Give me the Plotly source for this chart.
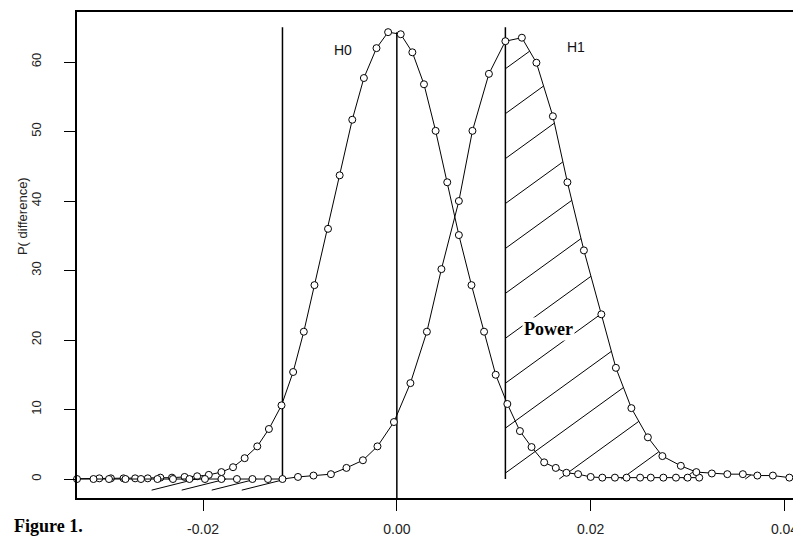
import numpy as np
import plotly.graph_objects as go

# ---- data ----
h0_x = [-0.0358, -0.0307, -0.0295, -0.0282, -0.0270, -0.0257, -0.0244, -0.0232, -0.0219, -0.0206,
        -0.0194, -0.0181, -0.0169, -0.0157, -0.0144, -0.0132, -0.0119, -0.0107, -0.0096, -0.0085,
        -0.0071, -0.0059, -0.0046, -0.0034, -0.0021, -0.0009, 0.0004, 0.0016, 0.0028, 0.0040,
        0.0052, 0.0064, 0.0077, 0.0090, 0.0102, 0.0114, 0.0127, 0.0139, 0.0152, 0.0164,
        0.0175, 0.0187, 0.0200, 0.0212, 0.0225, 0.0237, 0.0251, 0.0262, 0.0275, 0.0288,
        0.0300, 0.0312]
h0_y = [0.0, 0.1, 0.1, 0.1, 0.1, 0.1, 0.2, 0.2, 0.3, 0.4,
        0.6, 1.0, 1.7, 3.0, 4.7, 7.2, 10.6, 15.4, 21.2, 27.9,
        36.0, 43.7, 51.7, 57.7, 62.0, 64.3, 64.0, 61.4, 56.8, 50.1,
        42.7, 35.1, 27.9, 21.2, 15.0, 10.8, 6.9, 4.6, 2.4, 1.6,
        0.9, 0.7, 0.3, 0.2, 0.2, 0.2, 0.2, 0.2, 0.2, 0.2,
        0.2, 0.2]

h1_x = [-0.0330, -0.0313, -0.0297, -0.0280, -0.0264, -0.0247, -0.0231, -0.0214, -0.0198, -0.0181,
        -0.0165, -0.0149, -0.0133, -0.0118, -0.0102, -0.0086, -0.0068, -0.0052, -0.0035, -0.0020,
        -0.0003, 0.0014, 0.0031, 0.0046, 0.0064, 0.0078, 0.0095, 0.0112, 0.0129, 0.0144,
        0.0161, 0.0176, 0.0193, 0.0211, 0.0226, 0.0242, 0.0259, 0.0274, 0.0293, 0.0309,
        0.0325, 0.0341, 0.0357, 0.0372, 0.0388, 0.0405]
h1_y = [0.0, 0.0, 0.0, 0.0, 0.0, 0.0, 0.0, 0.0, 0.0, 0.0,
        0.0, 0.0, 0.0, 0.0, 0.3, 0.5, 0.7, 1.6, 2.7, 4.7,
        8.2, 13.8, 21.2, 30.2, 40.0, 50.1, 58.3, 63.0, 63.5, 59.9,
        52.2, 42.7, 32.9, 23.7, 16.0, 10.2, 6.0, 3.3, 1.9, 1.0,
        0.8, 0.7, 0.7, 0.5, 0.5, 0.2]

crit_lo = -0.0118
crit_hi = 0.0112
crit_top = 65.0
h0_mean = 0.0

x_ticks = [-0.02, 0.0, 0.02, 0.04]
x_tick_labels = ["-0.02", "0.00", "0.02", "0.04"]
y_ticks = [0, 10, 20, 30, 40, 50, 60]
y_tick_labels = ["0", "10", "20", "30", "40", "50", "60"]

X_RANGE = [-0.0330, 0.0417]
Y_RANGE = [-2.73, 67.2]

# ---- hatching of the power region (style: slope / spacing) ----
def hatch(x0, x1, floor, slope, first_cross, step, n_before, n_after):
    xs = np.linspace(x0, x1, 4000)
    cy = np.interp(xs, h1_x, h1_y)
    ox, oy = [], []
    for j in range(-n_before, n_after + 1):
        xc = first_cross + step * j
        ly = floor + slope * (xs - xc)
        m = (ly >= floor) & (ly <= cy)
        idx = np.where(m)[0]
        if len(idx) < 2:
            continue
        br = np.where(np.diff(idx) > 1)[0]
        run = idx[: br[0] + 1] if len(br) else idx
        if len(run) < 2:
            continue
        ox += [xs[run[0]], xs[run[-1]], None]
        oy += [ly[run[0]], ly[run[-1]], None]
    return ox, oy

rx, ry = hatch(crit_hi, h1_x[-1], 0.0, 1010.0, 0.01035, 0.0064, 12, 6)
lx, ly_ = hatch(-0.0256, crit_lo, -1.6, 349.0, -0.0253, 0.0031, 0, 3)

fig = go.Figure()
fig.add_trace(go.Scatter(x=rx + lx, y=ry + ly_, mode="lines",
                         line=dict(color="black", width=1), hoverinfo="skip", showlegend=False))

# vertical lines
for xv, yb, yt in [(crit_lo, 0.0, crit_top), (h0_mean, Y_RANGE[0], max(h0_y)), (crit_hi, 0.0, crit_top)]:
    fig.add_trace(go.Scatter(x=[xv, xv], y=[yb, yt], mode="lines",
                             line=dict(color="black", width=1.5), showlegend=False, hoverinfo="skip"))

mk = dict(symbol="circle", size=7, color="white", line=dict(color="black", width=1))
fig.add_trace(go.Scatter(x=h0_x, y=h0_y, mode="lines+markers", marker=mk,
                         line=dict(color="black", width=1), cliponaxis=False, showlegend=False))
fig.add_trace(go.Scatter(x=h1_x, y=h1_y, mode="lines+markers", marker=mk,
                         line=dict(color="black", width=1), cliponaxis=False, showlegend=False))

fig.add_annotation(x=-0.0056, y=61.7, text="H0", showarrow=False,
                   font=dict(family="Liberation Sans", size=14, color="#111"))
fig.add_annotation(x=0.0185, y=62.2, text="H1", showarrow=False,
                   font=dict(family="Liberation Sans", size=14, color="#111"))
fig.add_annotation(x=0.0156, y=21.6, text="<b>Power</b>", showarrow=False, bgcolor="white",
                   font=dict(family="Liberation Serif", size=18, color="black"))
fig.add_annotation(xref="paper", yref="paper", x=-0.0898, y=-0.0815, xanchor="left", yanchor="bottom",
                   text="<b>Figure 1.</b>", showarrow=False,
                   font=dict(family="Liberation Serif", size=18, color="black"))
fig.add_annotation(xref="paper", yref="paper", x=-0.076, y=0.58, textangle=-90,
                   xanchor="center", yanchor="middle",
                   text="P( difference)", showarrow=False,
                   font=dict(family="Liberation Sans", size=13, color="#222"))

# the page adds an 8px body margin, so the figure is sized/offset to compensate
fig.update_layout(
    width=793, height=530,
    margin=dict(l=69, r=0, t=4, b=40, autoexpand=False),
    plot_bgcolor="white", paper_bgcolor="white",
    showlegend=False,
)
fig.update_xaxes(range=X_RANGE, tickvals=x_ticks, ticktext=x_tick_labels, automargin=False,
                 ticks="outside", ticklen=11, tickwidth=1, tickcolor="black",
                 showline=True, linewidth=2, linecolor="black", mirror=True,
                 showgrid=False, zeroline=False, ticklabelstandoff=6,
                 tickfont=dict(family="Liberation Sans", size=14, color="#222"))
fig.update_yaxes(range=Y_RANGE, tickvals=y_ticks, ticktext=y_tick_labels, automargin=False,
                 ticks="outside", ticklen=11, tickwidth=1, tickcolor="black", tickangle=-90,
                 showline=True, linewidth=2, linecolor="black",
                 showgrid=False, zeroline=False, ticklabelstandoff=18,
                 tickfont=dict(family="Liberation Sans", size=13, color="#222"))

fig.write_html("out.html")
